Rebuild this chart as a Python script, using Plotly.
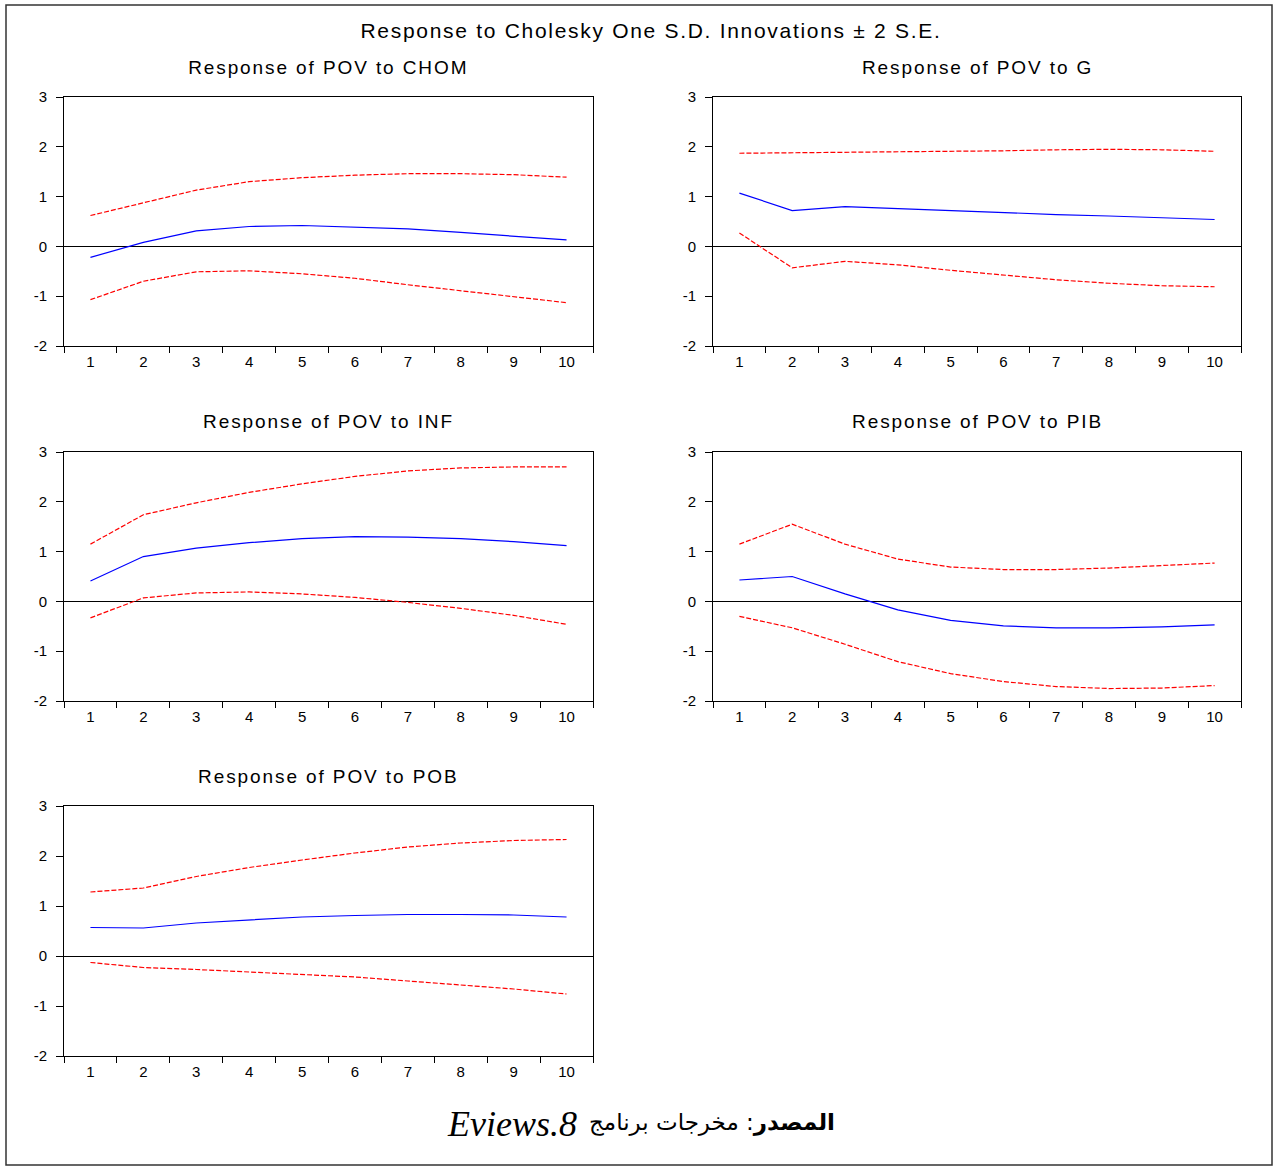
import plotly.graph_objects as go

periods = ["1", "2", "3", "4", "5", "6", "7", "8", "9", "10"]
y_ticks = [-2, -1, 0, 1, 2, 3]
y_tick_labels = ["-2", "-1", "0", "1", "2", "3"]

main_title = "Response to Cholesky One S.D. Innovations ± 2 S.E."
panel_titles = ["Response of POV to CHOM", "Response of POV to G",
                "Response of POV to INF", "Response of POV to PIB",
                "Response of POV to POB"]

chom_resp = [-0.22, 0.08, 0.31, 0.40, 0.42, 0.39, 0.35, 0.28, 0.21, 0.13]
chom_up = [0.62, 0.87, 1.13, 1.30, 1.38, 1.43, 1.46, 1.46, 1.44, 1.39]
chom_lo = [-1.07, -0.70, -0.51, -0.49, -0.55, -0.64, -0.77, -0.89, -1.01, -1.13]

g_resp = [1.07, 0.72, 0.80, 0.76, 0.71, 0.67, 0.64, 0.61, 0.58, 0.54]
g_up = [1.87, 1.88, 1.89, 1.89, 1.90, 1.92, 1.94, 1.95, 1.94, 1.91]
g_lo = [0.27, -0.43, -0.30, -0.37, -0.48, -0.58, -0.67, -0.74, -0.79, -0.81]

inf_resp = [0.41, 0.90, 1.07, 1.18, 1.26, 1.30, 1.29, 1.26, 1.20, 1.12]
inf_up = [1.15, 1.74, 1.98, 2.19, 2.36, 2.51, 2.62, 2.68, 2.70, 2.70]
inf_lo = [-0.33, 0.07, 0.17, 0.19, 0.15, 0.08, -0.02, -0.14, -0.28, -0.46]

pib_resp = [0.43, 0.50, 0.15, -0.17, -0.38, -0.49, -0.53, -0.53, -0.51, -0.47]
pib_up = [1.15, 1.55, 1.15, 0.85, 0.69, 0.64, 0.64, 0.67, 0.72, 0.77]
pib_lo = [-0.30, -0.53, -0.86, -1.21, -1.45, -1.61, -1.71, -1.75, -1.74, -1.69]

pob_resp = [0.57, 0.56, 0.66, 0.72, 0.78, 0.81, 0.83, 0.83, 0.82, 0.78]
pob_up = [1.28, 1.36, 1.59, 1.77, 1.92, 2.06, 2.18, 2.26, 2.31, 2.33]
pob_lo = [-0.13, -0.23, -0.27, -0.32, -0.36, -0.42, -0.50, -0.58, -0.66, -0.76]

caption_latin = "Eviews.8"
caption_arabic_bold = "المصدر"
caption_arabic_rest = ": مخرجات برنامج"

W, H = 1279, 1167

def px_x(v):
    return v / W

def px_y(v):
    return 1 - v / H

boxes = [
    (64, 593, 97, 346),
    (713, 1241, 97, 346),
    (64, 593, 452, 701),
    (713, 1241, 452, 701),
    (64, 593, 806, 1056),
]
title_y = [67, 67, 421, 421, 776]

series = [
    (chom_resp, chom_up, chom_lo),
    (g_resp, g_up, g_lo),
    (inf_resp, inf_up, inf_lo),
    (pib_resp, pib_up, pib_lo),
    (pob_resp, pob_up, pob_lo),
]

fig = go.Figure()
layout = dict(
    template="none",
    width=W, height=H,
    margin=dict(l=0, r=0, t=0, b=0, pad=0, autoexpand=False),
    paper_bgcolor="white", plot_bgcolor="white",
    showlegend=False,
    font=dict(family="Liberation Sans, Arial, sans-serif", size=15, color="black"),
)
annotations = []
tick_font = dict(family="Liberation Sans, Arial, sans-serif", size=15, color="black")

for i, ((resp, up, lo), (l, r, t, b)) in enumerate(zip(series, boxes)):
    n = i + 1
    xa = "x" if n == 1 else f"x{n}"
    ya = "y" if n == 1 else f"y{n}"
    for vals, color, dash in ((up, "#ff0000", "5px,2px"), (lo, "#ff0000", "5px,2px"),
                              (resp, "#0000ff", "solid")):
        fig.add_trace(go.Scatter(x=periods, y=vals, mode="lines", xaxis=xa, yaxis=ya,
                                 line=dict(color=color, width=1.2, dash=dash),
                                 hoverinfo="skip"))
    layout["xaxis" if n == 1 else f"xaxis{n}"] = dict(
        domain=[px_x(l), px_x(r)], anchor=ya, type="category",
        categoryorder="array", categoryarray=periods,
        range=[-0.5, 9.5], tickson="boundaries", ticks="outside", ticklen=6,
        tickcolor="black", tickwidth=1, showgrid=False, zeroline=False,
        showline=True, mirror=True, linecolor="black", linewidth=1,
        tickfont=tick_font, ticklabelstandoff=2, fixedrange=True, automargin=False,
    )
    layout["yaxis" if n == 1 else f"yaxis{n}"] = dict(
        domain=[px_y(b), px_y(t)], anchor=xa, range=[-2, 3],
        tickvals=y_ticks, ticktext=y_tick_labels, ticks="outside", ticklen=7,
        tickcolor="black", tickwidth=1,
        showgrid=False, zeroline=True, zerolinecolor="black", zerolinewidth=1,
        showline=True, mirror=True, linecolor="black", linewidth=1,
        tickfont=tick_font, ticklabelstandoff=6, fixedrange=True, automargin=False,
    )
    annotations.append(dict(
        text=panel_titles[i], xref="paper", yref="paper",
        x=px_x((l + r) / 2), y=px_y(title_y[i]), xanchor="center", yanchor="middle",
        showarrow=False, font=dict(family="Liberation Sans, Arial, sans-serif", size=19, color="black"),
    ))

annotations.append(dict(
    text=main_title, xref="paper", yref="paper", x=px_x(651), y=px_y(30),
    xanchor="center", yanchor="middle", showarrow=False,
    font=dict(family="Liberation Sans, Arial, sans-serif", size=21, color="black"),
))
annotations.append(dict(
    text="<i>" + caption_latin + "</i>", xref="paper", yref="paper", x=px_x(579), y=px_y(1124),
    xanchor="right", yanchor="middle", showarrow=False,
    font=dict(family="Liberation Serif, Times New Roman, serif", size=36, color="black"),
))
annotations.append(dict(
    text="<b>" + caption_arabic_bold + "</b>" + caption_arabic_rest, xref="paper", yref="paper",
    x=px_x(587), y=px_y(1122),
    xanchor="left", yanchor="middle", showarrow=False,
    font=dict(family="DejaVu Sans, serif", size=23, color="black"),
))
layout["annotations"] = annotations
layout["shapes"] = [dict(type="rect", xref="paper", yref="paper",
                         x0=px_x(6), x1=px_x(1272), y0=px_y(1165), y1=px_y(5),
                         line=dict(color="#333333", width=1.5), fillcolor="rgba(0,0,0,0)")]
fig.update_layout(**layout)

post = """
document.body.style.margin = '0';
document.querySelectorAll('.annotation-text').forEach(function(t){
  var s = t.textContent || '';
  if (s.indexOf('Response') === 0) {
    t.style.letterSpacing = (s.indexOf('Cholesky') >= 0) ? '1.7px' : '1.9px';
  }
});
"""
fig.write_html("out.html", post_script=post)
